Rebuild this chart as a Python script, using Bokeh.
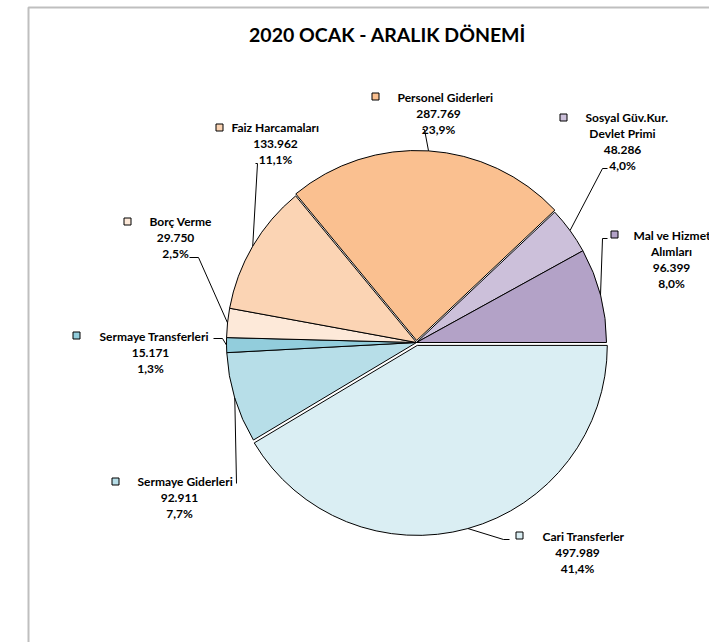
import numpy as np
from bokeh.plotting import figure
from bokeh.models import Range1d, ColumnDataSource
from bokeh.core.properties import value
from bokeh.embed import file_html
from bokeh.resources import INLINE

# ---------------- data ----------------
title = "2020 OCAK - ARALIK DÖNEMİ"
categories = ["Cari Transferler", "Sermaye Giderleri", "Sermaye Transferleri", "Borç Verme",
              "Faiz Harcamaları", "Personel Giderleri", "Sosyal Güv.Kur. Devlet Primi",
              "Mal ve Hizmet Alımları"]
values = [497989, 92911, 15171, 29750, 133962, 287769, 48286, 96399]
name_lines = [["Cari Transferler"], ["Sermaye Giderleri"], ["Sermaye Transferleri"], ["Borç Verme"],
              ["Faiz Harcamaları"], ["Personel Giderleri"], ["Sosyal Güv.Kur.", "Devlet Primi"],
              ["Mal ve Hizmet", "Alımları"]]

# ---------------- styles / layout ----------------
colors = ["#DAEEF3", "#B7DEE8", "#92CDDC", "#FDE9D9", "#FBD4B4", "#FAC090", "#CCC0DA", "#B3A2C7"]
explode = [3, 0, 0, 0, 0, 2, 0, 0]
# label layout (screen px): key x, key y, name left x, block center x, first line y
key_xy = [(519, 535), (115, 481), (76, 335), (127, 221), (219, 127), (375, 96), (563, 117), (614, 234)]
name_left = [542, 137, 99, 149, 231, 397, 585, 633]
block_cx = [577, 179, 150, 175, 275, 438, 622, 671]
first_y = [536, 481, 336, 221, 127, 97, 117, 235]
leader_pts = [[(509, 539), (503, 539)], [(236, 483)], [(213, 338), (222, 338)],
              [(189, 257), (198, 257)], [(255, 163), (257, 163)], [(422, 129), (424, 129)],
              [(607, 168), (602, 168)], [(607, 238), (602, 238)]]
LINE_H = 16
CX, CY, R = 416, -342, 190
FONT = "Lato"
LBL_SIZE = "12px"

W, H = 709, 642
p = figure(width=W, height=H, x_range=Range1d(0, W), y_range=Range1d(-H, 0),
           output_backend="svg", toolbar_location=None, x_axis_type=None, y_axis_type=None,
           min_border=0)
p.grid.visible = False
p.outline_line_color = None
p.background_fill_color = "white"
p.border_fill_color = "white"

# chart border
p.line(x=[28, 28, 720], y=[-700, -7, -7], line_color="#BFBFBF", line_width=2)

total = sum(values)
fr = np.array(values) / total
cum = np.concatenate([[0], np.cumsum(fr)])
start = -cum[:-1] * 2 * np.pi
end = -cum[1:] * 2 * np.pi
mid = (start + end) / 2
xs = CX + np.array(explode) * np.cos(mid)
ys = CY + np.array(explode) * np.sin(mid)

src = ColumnDataSource(dict(x=xs, y=ys, start=start, end=end, color=colors, cat=categories))
p.wedge(x="x", y="y", radius=R, start_angle="start", end_angle="end", direction="clock",
        fill_color="color", line_color="black", line_width=1, source=src)

# leader lines
for i in range(len(values)):
    ex = xs[i] + R * np.cos(mid[i])
    ey = ys[i] + R * np.sin(mid[i])
    lx = [pt[0] for pt in leader_pts[i]] + [ex]
    ly = [-pt[1] for pt in leader_pts[i]] + [ey]
    p.line(x=lx, y=ly, line_color="black", line_width=1)

# labels
tx, ty, tt, ta = [], [], [], []
for i, v in enumerate(values):
    nl = name_lines[i]
    tx.append(name_left[i]); ty.append(-first_y[i]); tt.append(nl[0]); ta.append("left")
    extra = nl[1:] + [f"{v:,}".replace(",", "."), f"{fr[i]*100:.1f}".replace(".", ",") + "%"]
    for k, s in enumerate(extra):
        tx.append(block_cx[i]); ty.append(-(first_y[i] + LINE_H * (k + 1))); tt.append(s); ta.append("center")
lsrc = ColumnDataSource(dict(x=tx, y=ty, text=tt, align=ta))
p.text(x="x", y="y", text="text", text_align="align", text_baseline="middle",
       text_font=value(FONT), text_font_style="bold", text_font_size=LBL_SIZE,
       text_color="black", source=lsrc)

# legend keys
p.rect(x=[k[0] for k in key_xy], y=[-k[1] for k in key_xy], width=7, height=7,
       width_units="screen", height_units="screen", fill_color=colors,
       line_color="black", line_width=1)

# title
p.text(x=[387], y=[-34], text=[title], text_align="center", text_baseline="middle",
       text_font=value(FONT), text_font_style="bold", text_font_size="19.5px", text_color="black")

open("out.html", "w").write(file_html(p, INLINE))
